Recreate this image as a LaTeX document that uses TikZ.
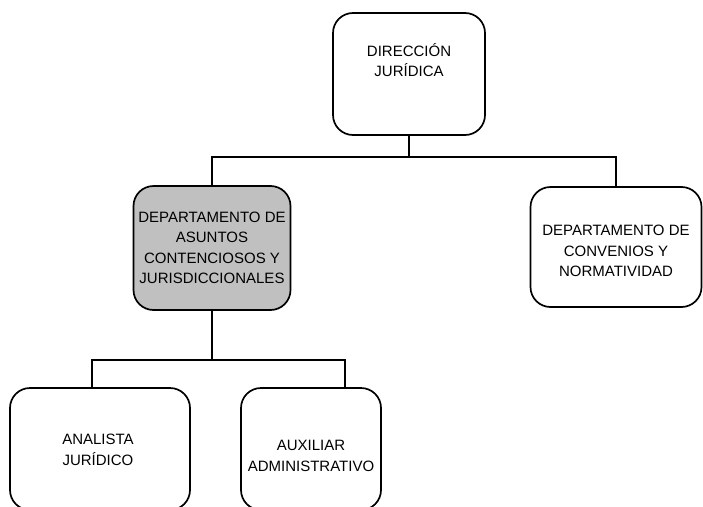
\documentclass[tikz,border=0pt]{standalone}
\usepackage{fontspec}
\setmainfont{Liberation Sans}
\begin{document}
\begin{tikzpicture}[x=1pt,y=-1pt,
  box/.style={draw=black, line width=1.7pt, rounded corners=20pt, inner sep=0pt},
  txt/.style={align=center, font=\fontsize{15}{20.5}\selectfont, inner sep=0pt},
  conn/.style={draw=black, line width=1.7pt}]
\useasboundingbox (0,0) rectangle (703,506);
% boxes
\node[box, minimum width=152pt, minimum height=122pt] (top) at (409,74) {};
\node[box, fill={rgb,255:red,192;green,192;blue,192}, minimum width=157pt, minimum height=124pt] (dep1) at (212,248) {};
\node[box, minimum width=171pt, minimum height=120pt] (dep2) at (616,247) {};
\node[box, minimum width=180pt, minimum height=122pt] (ana) at (100,449) {};
\node[box, minimum width=140pt, minimum height=122pt] (aux) at (311,449) {};
% texts
\node[txt] (ttop) at (409,60) {DIRECCIÓN\\JURÍDICA};
\node[txt] (tdep1) at (212,248) {DEPARTAMENTO DE\\ASUNTOS\\CONTENCIOSOS Y\\JURISDICCIONALES};
\node[txt] (tdep2) at (616,251) {DEPARTAMENTO DE\\CONVENIOS Y\\NORMATIVIDAD};
\node[txt] (tana) at (98,450) {ANALISTA\\JURÍDICO};
\node[txt] (taux) at (311,456) {AUXILIAR\\ADMINISTRATIVO};
% connectors
\coordinate (j1) at (409,157);
\coordinate (j2) at (212,360);
\coordinate (a1) at (92,388);
\coordinate (a2) at (345,388);
\draw[conn] (top.south) -- (j1);
\draw[conn] (j1) -| (dep1.north);
\draw[conn] (j1) -| (dep2.north);
\draw[conn] (dep1.south) -- (j2);
\draw[conn] (j2) -| (a1);
\draw[conn] (j2) -| (a2);
\end{tikzpicture}
\end{document}
